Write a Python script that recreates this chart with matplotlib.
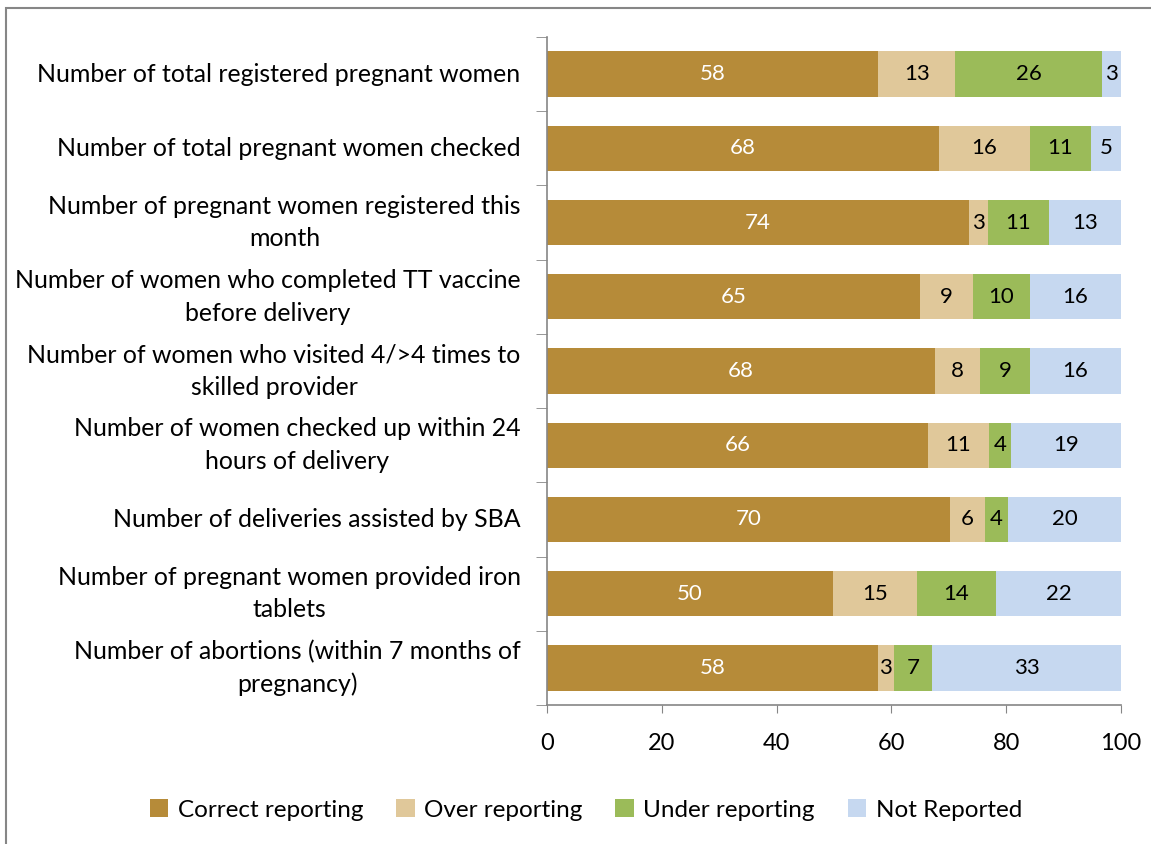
import matplotlib.pyplot as plt
from matplotlib.patches import Rectangle

plt.rcParams['font.family'] = ['Lato', 'DejaVu Sans']

# categories top to bottom
categories = [
    "Number of total registered pregnant women",
    "Number of total pregnant women checked",
    "Number of pregnant women registered this\nmonth",
    "Number of women who completed TT vaccine\nbefore delivery",
    "Number of women who visited 4/>4 times to\nskilled provider",
    "Number of women checked up within 24\nhours of delivery",
    "Number of deliveries assisted by SBA",
    "Number of pregnant women provided iron\ntablets",
    "Number of abortions (within 7 months of\npregnancy)",
]
correct = [57.7, 68.3, 73.5, 65.0, 67.6, 66.4, 70.2, 49.8, 57.6]
over = [13.4, 15.8, 3.3, 9.2, 7.9, 10.6, 6.1, 14.6, 2.9]
under = [25.6, 10.7, 10.6, 9.9, 8.6, 3.8, 4.0, 13.8, 6.6]
not_rep = [3.3, 5.2, 12.6, 15.9, 15.9, 19.2, 19.7, 21.8, 32.9]

series = [("Correct reporting", correct, "#B68B39", "white"),
          ("Over reporting", over, "#E0C89A", "black"),
          ("Under reporting", under, "#9BBB59", "black"),
          ("Not Reported", not_rep, "#C6D8F0", "black")]

fig = plt.figure(figsize=(11.51, 8.44), dpi=100)
ax = fig.add_axes([0.4752, 0.1647, 0.4987, 0.7915])

y = list(range(len(categories)))
left = [0.0] * len(categories)
for name, vals, col, tcol in series:
    bars = ax.barh(y, vals, left=left, height=0.61, color=col, label=name)
    for b, v in zip(bars, vals):
        ax.text(b.get_x() + b.get_width() / 2, b.get_y() + b.get_height() / 2,
                "%.0f" % v, ha='center', va='center', color=tcol, fontsize=16)
    left = [l + v for l, v in zip(left, vals)]

ax.set_xlim(0, 100)
ax.set_ylim(len(categories) - 0.5, -0.5)
ax.set_xticks(range(0, 101, 20))
ax.tick_params(axis='x', labelsize=17, length=6, color='#868686', pad=14)

ax.set_yticks(y)
ax.set_yticklabels(categories, fontsize=17.9, ha='right', va='center')
for t in ax.get_yticklabels():
    t.set_multialignment('center')
    t.set_linespacing(1.5)
ax.tick_params(axis='y', length=0, pad=19)
ax.set_yticks([i - 0.5 for i in range(len(categories) + 1)], minor=True)
ax.tick_params(axis='y', which='minor', length=8, color='#868686')

for s in ['top', 'right']:
    ax.spines[s].set_visible(False)
for s in ['left', 'bottom']:
    ax.spines[s].set_color('#868686')
    ax.spines[s].set_linewidth(1.2)

fig.legend(loc='center', bbox_to_anchor=(586 / 1151, 1 - 810 / 844), ncol=4,
           frameon=False, fontsize=17.5, handlelength=0.75, handleheight=0.75,
           columnspacing=1.35, handletextpad=0.4)

fig.patches.append(Rectangle((6 / 1151, -0.05), 1.2, 1 - 8 / 844 + 0.05,
                             transform=fig.transFigure, fill=False,
                             edgecolor='#868686', linewidth=1.5))

fig.savefig("out.png", dpi=100)
